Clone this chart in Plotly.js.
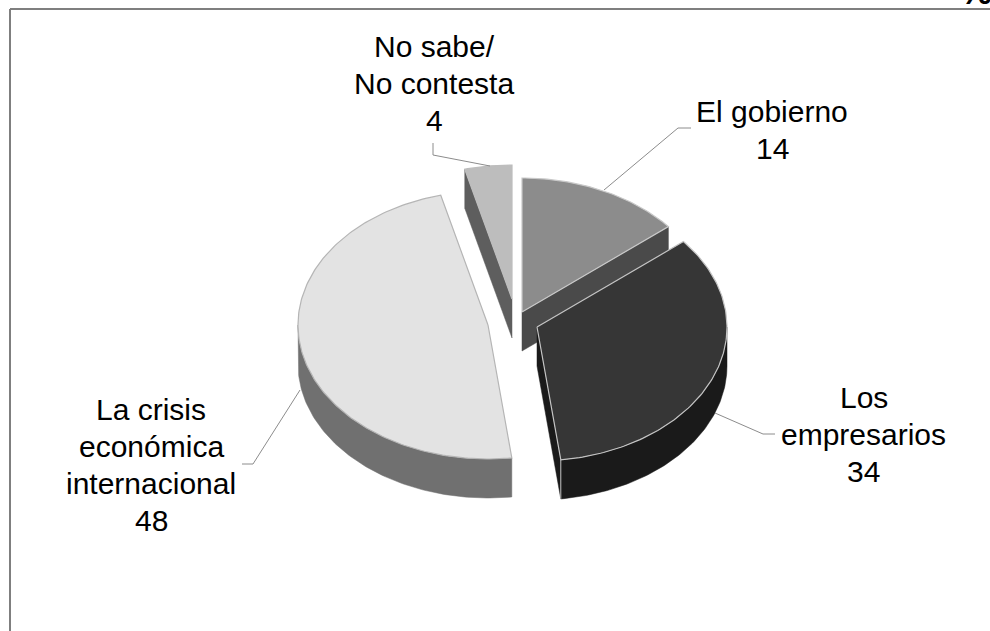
<!DOCTYPE html>
<html>
<head>
<meta charset="utf-8">
<script src="https://cdn.plot.ly/plotly-3.0.1.min.js"></script>
<style>html,body{margin:0;padding:0;background:#fff}#chart{width:990px;height:631px}</style>
</head>
<body>
<div id="chart"></div>
<script>
// Data
const categories = ["El gobierno", "Los empresarios", "La crisis económica internacional", "No sabe/ No contesta"];
const values = [14, 34, 48, 4];
const labelLines = [["El gobierno", "14"], ["Los", "empresarios", "34"], ["La crisis", "económica", "internacional", "48"], ["No sabe/", "No contesta", "4"]];

// Styles and layout of the tilted pie
const topColors = ["#8c8c8c", "#363636", "#e3e3e3", "#bdbdbd"];
const sideColors = ["#4a4a4a", "#1a1a1a", "#707070", "#5e5e5e"];
const edgeColors = ["#c9c9c9", "#c4c4c4", "#b5b5b5", "#bdbdbd"];
const apexX = [522, 537, 488, 512];
const apexY = [312, 327, 325, 299];
const labelX = [772, 863.5, 151, 434];
const firstBaseline = [121, 407, 419, 56];
const lineStep = 37;
const leaderX = [[604, 678, 691], [715, 763, 775], [300, 253, 242], [490, 433, 433]];
const leaderY = [[190, 128, 128], [413, 434, 434], [390, 464, 464], [166, 155, 143]];
const radiusX = 190, radiusY = 134, depth = 39;

const total = values.reduce((a, b) => a + b, 0);
const starts = [];
values.reduce((acc, v, i) => { starts[i] = acc; return acc + v; }, 0);
const ang = v => v / total * 2 * Math.PI;
const px = (i, t) => apexX[i] + radiusX * Math.sin(t);
const py = (i, t) => apexY[i] - radiusY * Math.cos(t);

function arc(i, a, b) {
  const n = Math.max(2, Math.ceil(Math.abs(b - a) * 60));
  const xs = [], ys = [];
  for (let k = 0; k <= n; k++) {
    const t = a + (b - a) * k / n;
    xs.push(px(i, t)); ys.push(py(i, t));
  }
  return [xs, ys];
}
function poly(xs, ys, fill, edge, width) {
  return {
    type: "scatter", mode: "lines", x: xs, y: ys, fill: "toself", fillcolor: fill,
    line: { color: edge, width: width === undefined ? 1 : width }, hoverinfo: "skip", showlegend: false
  };
}
function topFace(i) {
  const a = ang(starts[i]), b = ang(starts[i] + values[i]);
  const [xs, ys] = arc(i, a, b);
  return poly([apexX[i], ...xs, apexX[i]], [apexY[i], ...ys, apexY[i]], topColors[i], edgeColors[i], 1.2);
}
function cutWall(i, atEnd) {
  const t = ang(starts[i] + (atEnd ? values[i] : 0));
  const x = [apexX[i], px(i, t), px(i, t), apexX[i], apexX[i]];
  const y = [apexY[i], py(i, t), py(i, t) + depth, apexY[i] + depth, apexY[i]];
  return poly(x, y, sideColors[i], sideColors[i], 0.5);
}
function outerWall(i, a, b) {
  const [xs, ys] = arc(i, a, b);
  const xb = xs.slice().reverse(), yb = ys.map(v => v + depth).reverse();
  return poly([...xs, ...xb, xs[0]], [...ys, ...yb, ys[0]], sideColors[i], sideColors[i], 0.5);
}
function frontEdge(i) {
  const t = ang(starts[i] + values[i]);
  return {
    type: "scatter", mode: "lines", x: [px(i, t), px(i, t)], y: [py(i, t), py(i, t) + depth],
    line: { color: "#c4c4c4", width: 1 }, hoverinfo: "skip", showlegend: false
  };
}

const Q = Math.PI / 2;
const traces = [
  // No sabe (back)
  cutWall(3, false), topFace(3),
  // crisis
  outerWall(2, ang(starts[2]), 3 * Q), topFace(2),
  // gobierno
  cutWall(0, true), topFace(0),
  // empresarios
  cutWall(1, true), outerWall(1, Q, ang(starts[1] + values[1])), frontEdge(1), topFace(1)
];
// leader lines
leaderX.forEach((lx, i) => traces.push({
  type: "scatter", mode: "lines", x: lx, y: leaderY[i],
  line: { color: "#8c8c8c", width: 1 }, hoverinfo: "skip", showlegend: false
}));

const font = { family: "Liberation Sans, Arial, sans-serif", size: 30, color: "#000" };
const annotations = [];
labelLines.forEach((lines, i) => lines.forEach((t, k) => annotations.push({
  x: labelX[i], y: firstBaseline[i] + k * lineStep - 10, xref: "x", yref: "y", text: t, showarrow: false,
  align: "center", xanchor: "center", yanchor: "middle", font
})));
annotations.push({
  x: 976, y: 0, yshift: 9, xref: "x", yref: "y", text: "<b>%</b>", showarrow: false, xanchor: "center", yanchor: "middle",
  font: { family: "Liberation Sans, Arial, sans-serif", size: 36, color: "#000" }
});

const layout = {
  width: 990, height: 631, margin: { l: 0, r: 0, t: 0, b: 0 },
  paper_bgcolor: "#fff", plot_bgcolor: "#fff", showlegend: false,
  xaxis: { range: [0, 990], visible: false, fixedrange: true },
  yaxis: { range: [631, 0], visible: false, fixedrange: true },
  annotations,
  shapes: [
    { type: "line", xref: "x", yref: "y", x0: 10, x1: 990, y0: 9, y1: 9, line: { color: "#7f7f7f", width: 2 } },
    { type: "line", xref: "x", yref: "y", x0: 10, x1: 10, y0: 9, y1: 631, line: { color: "#7f7f7f", width: 2 } }
  ]
};
Plotly.newPlot("chart", traces, layout, { displayModeBar: false, staticPlot: true });
</script>
</body>
</html>
